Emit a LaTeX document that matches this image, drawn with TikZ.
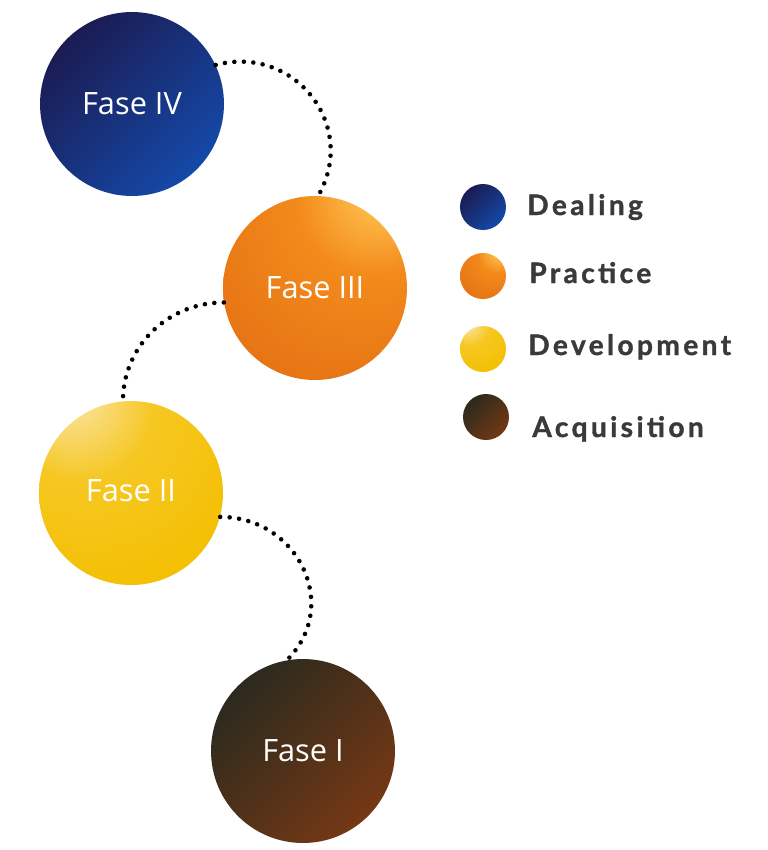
\documentclass[tikz,border=0pt]{standalone}
\usepackage{fontspec}
\newfontfamily\fasefont{Open Sans}
\newfontfamily\legfont[LetterSpace=12, BoldFeatures={FakeBold=1.3}]{Lato}
\usetikzlibrary{positioning}

\definecolor{dealdark}{HTML}{1B1B52}
\definecolor{deallight}{HTML}{1449A8}
\definecolor{pracl}{HTML}{FFC652}
\definecolor{pracm}{HTML}{F38A1B}
\definecolor{pracd}{HTML}{CF4E08}
\definecolor{devl}{HTML}{FAE5A4}
\definecolor{devm}{HTML}{F6C722}
\definecolor{devd}{HTML}{F3BF00}
\definecolor{acqdark}{HTML}{2B2A1E}
\definecolor{acqlight}{HTML}{753814}
\definecolor{legendgray}{HTML}{3A3A3A}

\pgfdeclareradialshading{practiceball}{\pgfpoint{20bp}{30bp}}{color(0bp)=(pracl); color(4bp)=(pracl); color(20bp)=(pracm); color(46bp)=(pracd!40!pracm); color(66bp)=(pracd); color(90bp)=(pracd)}
\pgfdeclareradialshading{developball}{\pgfpoint{-18bp}{30bp}}{color(0bp)=(devl); color(3bp)=(devl); color(20bp)=(devm); color(45bp)=(devd); color(90bp)=(devd)}

\tikzset{
  fase/.style={circle, minimum size=3.68cm, inner sep=0pt, text=white,
    font=\fasefont\fontsize{17.5}{20}\selectfont},
  legdot/.style={circle, minimum size=0.92cm, inner sep=0pt},
  legtext/.style={anchor=base west, inner sep=0pt, text=legendgray,
    font=\legfont\bfseries\fontsize{16}{18}\selectfont},
  dealing/.style={top color=dealdark, bottom color=deallight, shading angle=45},
  practice/.style={shade, shading=practiceball},
  development/.style={shade, shading=developball},
  acquisition/.style={top color=acqdark, bottom color=acqlight, shading angle=45},
  dots/.style={line width=2.6pt, line cap=round, dash pattern=on 0pt off 5.4pt}
}

\begin{document}
\begin{tikzpicture}[x=0.02cm, y=0.02cm]
  \fill[white] (0,0) rectangle (768,-850);
  \useasboundingbox (0,0) rectangle (768,-850);
  % phases
  \node[fase, dealing] (f4) at (132,-104) {Fase IV};
  \node[fase, practice] (f3) at (315,-288) {\raisebox{-0.12cm}{Fase III}};
  \node[fase, development] (f2) at (131,-493) {\raisebox{0.08cm}{Fase II}};
  \node[fase, acquisition] (f1) at (303,-751) {Fase I};
  % dotted links
  \draw[dots] (f4.25) to[out=15, in=60, looseness=1.25] (f3.88);
  \draw[dots] (f3.189) to[out=180, in=90] (f2.95);
  \draw[dots] (f2.345) to[out=0, in=45, looseness=1.25] (f1.100);
  % legend
  \foreach \nm/\sty/\dx/\dy/\tx/\ty [count=\i] in
    {Dealing/dealing/483/207/527/215, Practice/practice/483/276/529/283,
     Development/development/483/349/528/355, Acquisition/acquisition/486/417/532/437} {
    \node[legdot, \sty] (dot\i) at (\dx,-\dy) {};
    \node[legtext] (lab\i) at (\tx,-\ty) {\nm};
  }
\end{tikzpicture}
\end{document}
